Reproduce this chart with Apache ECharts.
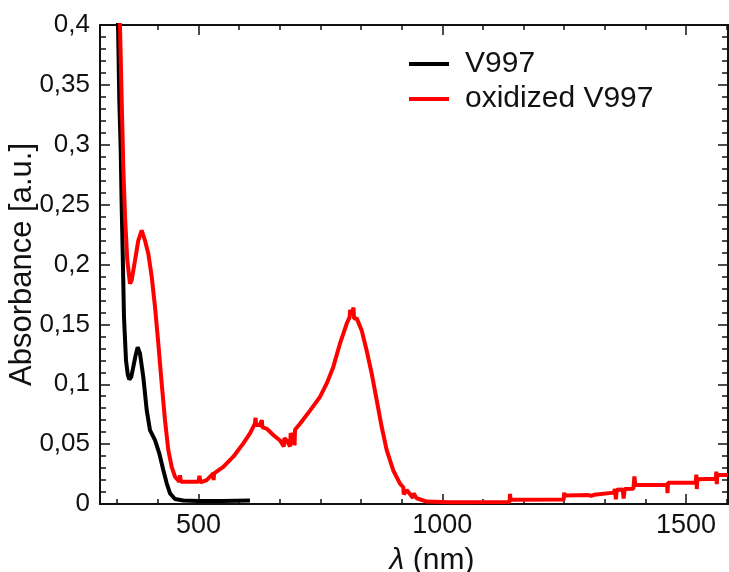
<!DOCTYPE html>
<html>
<head>
<meta charset="utf-8">
<script src="https://cdn.jsdelivr.net/npm/echarts@6/dist/echarts.min.js"></script>
<style>html,body{margin:0;padding:0;background:#fff}#c{width:729px;height:572px}</style>
</head>
<body>
<div id="c"></div>
<script>
// ---- data ----
const seriesNames = ['V997', 'oxidized V997'];

const v997Nm = [333, 335, 337.6, 340.5, 342.5, 344.6, 347.2, 351.3, 355, 358.1, 362, 366.3, 371, 375.3, 380, 386.8, 393.8, 400.5, 410.8, 419.6, 427.8, 434.8, 441.6, 451.8, 468.8, 500, 550, 605.6];
const v997Abs = [0.46, 0.40, 0.337, 0.295, 0.248, 0.209, 0.156, 0.120, 0.108, 0.104, 0.106, 0.1145, 0.124, 0.131, 0.1257, 0.106, 0.0784, 0.0617, 0.0534, 0.0423, 0.0284, 0.0173, 0.0089, 0.0042, 0.0030, 0.0025, 0.0025, 0.0030];

const oxNm = [338, 339, 342.5, 345.8, 349.3, 354, 359.5, 363, 369.8, 376.5, 383.5, 390.3, 397.1, 404, 410.8, 417.6, 424.5, 431.3, 438.1, 445, 451.8, 460.6, 462, 464, 480, 500, 502, 504, 516.8, 530.4, 531, 532, 550.9, 571.4, 591.9, 605.6, 615.9, 617, 618, 626.1, 630, 631, 639.9, 653.4, 667.2, 675, 676, 680.9, 688, 689, 694.4, 697, 698, 708.2, 728.7, 749.2, 763, 776.5, 790.2, 804, 810, 811, 814.2, 818, 819, 824.5, 834.7, 845, 855.2, 865.5, 875.7, 886, 899.5, 913.3, 920, 921, 927, 940, 941, 947.5, 968, 1015.8, 1138, 1139, 1140, 1249, 1250, 1251, 1300, 1305, 1312, 1313, 1352, 1354, 1356, 1358, 1370, 1372, 1374, 1392, 1394, 1396, 1461, 1462, 1463, 1520, 1521, 1522, 1523, 1561, 1562, 1563, 1564, 1586];
const oxAbs = [0.46, 0.3996, 0.337, 0.281, 0.240, 0.2035, 0.184, 0.187, 0.2035, 0.220, 0.2285, 0.220, 0.209, 0.190, 0.1646, 0.134, 0.1007, 0.070, 0.045, 0.031, 0.0228, 0.0186, 0.0240, 0.0186, 0.0186, 0.0186, 0.0235, 0.0180, 0.020, 0.0256, 0.0200, 0.0256, 0.031, 0.0395, 0.0506, 0.059, 0.0673, 0.0720, 0.0660, 0.066, 0.0700, 0.0640, 0.063, 0.0576, 0.053, 0.0480, 0.0550, 0.053, 0.0480, 0.0590, 0.056, 0.0490, 0.0620, 0.067, 0.078, 0.0895, 0.1007, 0.1145, 0.134, 0.1507, 0.1560, 0.1620, 0.159, 0.1640, 0.1550, 0.155, 0.145, 0.128, 0.109, 0.0868, 0.0645, 0.045, 0.028, 0.017, 0.0140, 0.0080, 0.0117, 0.0050, 0.0090, 0.0048, 0.002, 0.0015, 0.0017, 0.0085, 0.0035, 0.0037, 0.0095, 0.0072, 0.0075, 0.0068, 0.0077, 0.0092, 0.0095, 0.0125, 0.0040, 0.0120, 0.0122, 0.0045, 0.0125, 0.0128, 0.0230, 0.0158, 0.0160, 0.0090, 0.0178, 0.0180, 0.0245, 0.0125, 0.0206, 0.0210, 0.0270, 0.0165, 0.0242, 0.0242];

const xMajorTicks = [500, 1000, 1500];
const xMinorTicks = [333.33, 416.67, 583.33, 666.67, 750, 833.33, 916.67, 1083.33, 1166.67, 1250, 1333.33, 1416.67, 1583.33];
const yTickLabels = ['0', '0,05', '0,1', '0,15', '0,2', '0,25', '0,3', '0,35', '0,4'];

// ---- chart ----
const FONT = "'Liberation Sans', Arial, sans-serif";
const INK = '#111';
const zip = (a, b) => a.map((v, i) => [v, b[i]]);

const baseX = {
  type: 'value', min: 298, max: 1586,
  splitLine: { show: false },
  axisLine: { show: false, lineStyle: { color: INK, width: 2 } },
  axisTick: { show: true, inside: true, length: 10, lineStyle: { color: INK, width: 1.5 } },
  axisLabel: { show: false }
};
function xAxisDef(pos, major, withLine, withLabels) {
  const a = JSON.parse(JSON.stringify(baseX));
  a.position = pos;
  a.axisLine.show = withLine;
  a.axisTick.customValues = major ? xMajorTicks : xMinorTicks;
  a.axisTick.length = major ? 10 : 5;
  if (withLabels) {
    a.axisLabel = { show: true, customValues: xMajorTicks, margin: 8, fontSize: 27, fontFamily: FONT, color: INK,
      formatter: (v) => String(Math.round(v)) };
    a.name = '{i|λ} (nm)';
    a.nameLocation = 'middle';
    a.nameGap = 42;
    a.nameMoveOverlap = false;
    a.nameTextStyle = { fontSize: 30, fontFamily: FONT, color: INK, padding: [0, 0, 0, 36],
      rich: { i: { fontStyle: 'italic', fontSize: 30, fontFamily: FONT, color: INK } } };
  }
  return a;
}
function yAxisDef(pos, withLabels) {
  return {
    type: 'value', min: 0, max: 0.4, interval: 0.05, position: pos,
    splitLine: { show: false },
    axisLine: { show: true, lineStyle: { color: INK, width: 2 } },
    axisTick: { show: true, inside: true, length: 10, lineStyle: { color: INK, width: 1.5 } },
    minorTick: { show: true, splitNumber: 5, length: 6, lineStyle: { color: INK, width: 1.5 } },
    axisLabel: withLabels ? {
      show: true, margin: 10, fontSize: 26, fontFamily: FONT, color: INK,
      formatter: (v) => yTickLabels[Math.round(v / 0.05)]
    } : { show: false },
    name: withLabels ? 'Absorbance [a.u.]' : '',
    nameLocation: 'middle', nameGap: 62, nameRotate: 90, nameMoveOverlap: false,
    nameTextStyle: { fontSize: 31, fontFamily: FONT, color: INK }
  };
}

const chart = echarts.init(document.getElementById('c'));
chart.setOption({
  animation: false,
  backgroundColor: '#fff',
  grid: { left: 100, right: 1, top: 25, bottom: 68, containLabel: false, outerBoundsMode: 'none' },
  legend: {
    orient: 'vertical', left: 404, top: 44, itemWidth: 40, itemHeight: 4, itemGap: 5,
    icon: 'rect',
    textStyle: { fontSize: 30, fontFamily: FONT, color: INK, lineHeight: 30, padding: [0, 0, 0, 11] },
    data: seriesNames
  },
  xAxis: [
    xAxisDef('bottom', true, true, true),
    xAxisDef('bottom', false, false, false),
    xAxisDef('top', true, true, false),
    xAxisDef('top', false, false, false)
  ],
  yAxis: [yAxisDef('left', true), yAxisDef('right', false)],
  series: [
    { name: seriesNames[0], type: 'line', data: zip(v997Nm, v997Abs), showSymbol: false, symbol: 'none',
      lineStyle: { color: '#000', width: 4 }, itemStyle: { color: '#000' }, clip: true, z: 3 },
    { name: seriesNames[1], type: 'line', data: zip(oxNm, oxAbs), showSymbol: false, symbol: 'none',
      lineStyle: { color: '#ff0000', width: 4 }, itemStyle: { color: '#ff0000' }, clip: true, z: 4 }
  ]
});
</script>
</body>
</html>
